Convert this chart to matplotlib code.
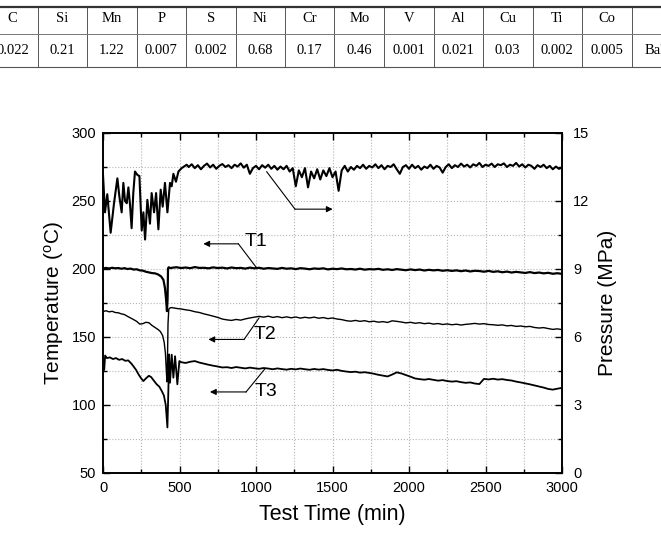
import numpy as np
import matplotlib
matplotlib.use('Agg')
import matplotlib.pyplot as plt
from matplotlib.ticker import MultipleLocator

plt.rcParams['font.family'] = 'Liberation Sans'
plt.rcParams['mathtext.default'] = 'regular'

# table above the chart (cut off at the left / right edge)
elements = ['C', 'Si', 'Mn', 'P', 'S', 'Ni', 'Cr', 'Mo', 'V', 'Al', 'Cu', 'Ti', 'Co', '']
contents = ['0.022', '0.21', '1.22', '0.007', '0.002', '0.68', '0.17', '0.46', '0.001',
            '0.021', '0.03', '0.002', '0.005', 'Bal.']

# pressure (MPa), early unstable part
p_time_a = [0, 13, 28, 50, 72, 94, 107, 122, 133, 144, 155, 166, 177, 187, 198, 209, 225, 238,
            253, 264, 275, 290, 307, 318, 334, 347, 362, 377, 390, 405, 421, 438, 449, 460,
            477, 493, 514, 547]
p_val_a = [13.15, 11.5, 12.3, 10.6, 11.9, 13.0, 12.2, 11.5, 12.8, 12.0, 11.9, 12.6, 11.8, 10.8,
           12.35, 13.3, 13.15, 13.1, 10.7, 11.5, 10.3, 12.05, 11.0, 12.35, 11.5, 12.35, 10.75,
           12.5, 11.75, 12.8, 11.5, 12.8, 12.65, 13.2, 12.85, 13.3, 13.45, 13.6]
# pressure (MPa), every 20 min from 560 to 3000
p_val_b = [13.5, 13.62, 13.45, 13.58, 13.4, 13.55, 13.65, 13.48, 13.6, 13.42,
           13.55, 13.63, 13.5, 13.58, 13.45, 13.6, 13.52, 13.66, 13.47, 13.6,
           13.2, 13.45, 13.55, 13.4, 13.58, 13.47, 13.6, 13.42, 13.55, 13.38,
           13.52, 13.4, 13.55, 13.3, 13.45, 12.65, 13.35, 13.05, 13.45, 12.6,
           13.3, 13.0, 13.4, 12.95, 13.35, 13.1, 13.45, 13.05, 13.3, 12.45,
           13.35, 13.55, 13.3, 13.5, 13.38, 13.55, 13.45, 13.6, 13.42, 13.55,
           13.48, 13.62, 13.45, 13.58, 13.4, 13.55, 13.5, 13.62, 13.4, 13.2,
           13.5, 13.58, 13.42, 13.6, 13.45, 13.55, 13.38, 13.52, 13.45, 13.6,
           13.42, 13.55, 13.48, 13.25, 13.5, 13.62, 13.45, 13.58, 13.5, 13.65,
           13.52, 13.6, 13.48, 13.62, 13.55, 13.68, 13.5, 13.6, 13.55, 13.65,
           13.5, 13.62, 13.58, 13.66, 13.5, 13.6, 13.55, 13.68, 13.52, 13.62,
           13.48, 13.6, 13.55, 13.42, 13.58, 13.5, 13.6, 13.45, 13.55, 13.4,
           13.52, 13.42, 13.48]

# temperatures (C) before / around the disturbance
t1_time_a = [0, 20, 40, 60, 80, 100, 120, 140, 160, 180, 200, 220, 240, 260, 280, 300, 320,
             340, 360, 380, 395, 405, 412, 418, 422, 425, 430, 440]
t1_val_a = [200.3, 200.8, 200.4, 200.9, 200.5, 200.7, 200.2, 200.6, 200.0, 200.3, 199.6, 199.8,
            199.0, 198.8, 198.0, 197.5, 197.0, 196.8, 196.0, 194.5, 192.0, 186.0, 178.0, 169.0,
            178.0, 200.5, 201.3, 200.6]
t2_time_a = [0, 20, 40, 60, 80, 100, 120, 140, 160, 180, 200, 220, 240, 260, 280, 300, 320,
             340, 360, 375, 390, 400, 408, 414, 418, 421, 425, 430, 440]
t2_val_a = [168.7, 169.3, 168.5, 168.9, 168.0, 167.8, 167.0, 166.5, 165.2, 164.0, 162.8, 161.5,
            159.5, 159.8, 160.8, 160.5, 158.5, 157.0, 155.5, 154.0, 151.0, 146.0, 138.0, 125.0,
            117.0, 130.0, 160.0, 170.5, 171.5]
t3_time_a = [0, 8, 14, 25, 45, 65, 85, 105, 125, 145, 165, 185, 198, 215, 235, 250, 264, 280,
             300, 315, 335, 351, 368, 384, 398, 410, 421, 427, 432, 438, 449, 460, 471, 486, 499]
t3_val_a = [125.0, 126.0, 136.4, 134.5, 135.0, 133.8, 134.5, 133.2, 133.8, 132.5, 132.8, 130.5,
            128.6, 126.0, 122.0, 119.5, 117.6, 119.5, 121.5, 120.5, 117.5, 115.2, 113.5, 110.3,
            107.0, 100.0, 83.5, 110.0, 137.2, 116.4, 137.0, 120.1, 135.9, 115.2, 132.3]

# temperatures every 30 min afterwards
t1_val_b = [200.9, 201.3, 200.7, 201.1, 200.6, 201.4, 200.8, 200.9, 200.5, 201.2,
            200.7, 201.0, 200.4, 201.1, 200.6, 200.8, 200.3, 201.0, 200.5, 200.9,
            200.2, 200.7, 200.4, 200.1, 200.8, 200.2, 200.5, 199.9, 200.6, 200.3,
            199.8, 200.4, 200.1, 200.5, 199.7, 200.2, 199.9, 200.4, 199.8, 200.0,
            199.6, 200.2, 199.5, 199.9, 199.7, 200.1, 199.4, 199.8, 199.3, 199.9,
            199.5, 199.1, 199.7, 199.2, 199.6, 198.9, 199.4, 199.0, 199.3, 198.7,
            199.1, 198.6, 199.0, 198.4, 198.9, 198.2, 198.7, 198.5, 198.0, 198.6,
            197.9, 198.3, 197.6, 198.1, 197.4, 197.9, 197.5, 197.1, 197.7, 197.0,
            197.4, 196.8, 197.2, 196.5, 196.9, 196.4]
t2_val_b = [171.6, 171.0, 170.6, 170.0, 169.5, 168.6, 168.0, 167.0, 166.2, 165.3,
            164.4, 163.2, 162.6, 162.2, 162.9, 162.4, 163.3, 164.0, 164.6, 165.2,
            164.6, 165.3, 164.4, 165.0, 164.2, 164.8, 164.1, 164.7, 163.9, 164.5,
            164.0, 164.6, 163.8, 164.3, 163.5, 164.0, 163.2, 162.8, 162.0, 161.6,
            162.2, 161.5, 162.0, 161.2, 161.6, 160.9, 161.3, 160.7, 161.9, 161.5,
            161.0, 160.4, 160.8, 160.1, 160.5, 159.8, 160.2, 159.5, 159.9, 159.2,
            159.6, 159.0, 159.4, 158.8, 159.3, 159.6, 160.0, 159.5, 159.8, 159.2,
            159.0, 158.6, 158.9, 158.2, 158.5, 157.8, 158.1, 157.5, 157.8, 157.0,
            156.6, 156.9, 156.2, 155.6, 156.0, 155.4]
t3_val_b = [131.5, 130.9, 131.8, 132.3, 131.2, 130.4, 129.6, 128.9, 128.3, 127.6,
            127.8, 127.2, 127.9, 127.4, 126.9, 127.5, 127.0, 126.6, 127.2, 126.8,
            126.3, 126.9, 126.4, 126.0, 126.6, 126.2, 126.8, 126.3, 125.9, 126.5,
            126.0, 126.4, 125.8, 125.4, 125.9, 125.1, 124.6, 124.2, 124.5, 123.8,
            124.1, 123.6, 123.0, 122.2, 121.6, 121.0, 122.4, 124.0, 123.2, 122.0,
            120.8, 119.5, 119.0, 118.6, 119.1, 118.5, 117.9, 118.3, 117.6, 117.2,
            117.5, 116.8, 116.3, 116.6, 115.8, 115.4, 119.2, 118.8, 119.3, 118.7,
            119.0, 118.4, 118.0, 117.2, 116.6, 115.9, 115.2, 114.4, 113.6, 112.8,
            111.8, 111.3, 112.0, 112.6]

p_time = p_time_a + list(range(560, 3001, 20))
p_val = p_val_a + p_val_b
t1_time = t1_time_a + list(range(450, 3001, 30))
t1_val = t1_val_a + t1_val_b
t2_time = t2_time_a + list(range(450, 3001, 30))
t2_val = t2_val_a + t2_val_b
t3_time = t3_time_a + list(range(510, 3001, 30))
t3_val = t3_val_a + t3_val_b

W, H = 661, 540
fig = plt.figure(figsize=(W / 100, H / 100), dpi=100)

# ---- table strip ----
col_w = 49.5
x0 = 12.75
for i, (el, val) in enumerate(zip(elements, contents)):
    cx = (x0 + i * col_w) / W
    fig.text(cx, 1 - 19 / H, el, ha='center', va='center', fontsize=10.5, family='Liberation Serif')
    fig.text(cx, 1 - 51 / H, val, ha='center', va='center', fontsize=10.5, family='Liberation Serif')
for i in range(len(elements) - 1):
    bx = (x0 + (i + 0.5) * col_w) / W
    fig.lines.append(plt.Line2D([bx, bx], [1 - 7 / H, 1 - 67 / H], transform=fig.transFigure,
                                color='#555555', lw=0.7))
fig.lines.append(plt.Line2D([0, 1], [1 - 7 / H, 1 - 7 / H], transform=fig.transFigure,
                            color='#333333', lw=1.6))
fig.lines.append(plt.Line2D([0, 1], [1 - 34 / H, 1 - 34 / H], transform=fig.transFigure,
                            color='#777777', lw=0.7))
fig.lines.append(plt.Line2D([0, 1], [1 - 67 / H, 1 - 67 / H], transform=fig.transFigure,
                            color='#555555', lw=0.8))

# ---- chart ----
ax = fig.add_axes([103 / W, 1 - 473 / H, (562 - 103) / W, (473 - 133) / H])
ax2 = ax.twinx()

ax.plot(t1_time, t1_val, color='black', lw=1.6)
ax.plot(t2_time, t2_val, color='black', lw=1.0)
ax.plot(t3_time, t3_val, color='black', lw=1.3)
ax2.plot(p_time, p_val, color='black', lw=1.5)

ax.set_xlim(0, 3000)
ax.set_ylim(50, 300)
ax2.set_ylim(0, 15)

ax.xaxis.set_major_locator(MultipleLocator(500))
ax.xaxis.set_minor_locator(MultipleLocator(250))
ax.yaxis.set_major_locator(MultipleLocator(50))
ax.yaxis.set_minor_locator(MultipleLocator(25))
ax2.yaxis.set_major_locator(MultipleLocator(3))
ax2.yaxis.set_minor_locator(MultipleLocator(1.5))

ax.grid(which='both', linestyle=':', color='#b5b5b5', lw=0.8)
ax.set_axisbelow(True)

for a in (ax, ax2):
    a.tick_params(which='both', direction='in', width=1.0, labelsize=10.5)
    a.tick_params(which='major', length=5)
    a.tick_params(which='minor', length=3)
    for s in a.spines.values():
        s.set_linewidth(1.2)
ax.tick_params(axis='x', which='both', top=True, pad=6)
ax.tick_params(axis='y', pad=5)
ax2.tick_params(axis='y', pad=8)

ax.set_xlabel('Test Time (min)', fontsize=15.5, labelpad=6)
ax.set_ylabel('Temperature ($^{o}$C)', fontsize=15, labelpad=4)
ax2.set_ylabel('Pressure (MPa)', fontsize=15, labelpad=6)

# callouts
arrow = dict(arrowstyle='-|>', color='black', lw=0.8, mutation_scale=9, shrinkA=0, shrinkB=0)
callouts = [
    ((1070, 271.5), (1255, 244), (1501, 244), None, None),
    ((1005, 200.7), (885, 218.5), (656, 218.5), 'T1', (1000, 220)),
    ((1020, 164), (922, 148.2), (689, 148.2), 'T2', (1062, 151.5)),
    ((1059, 126.7), (935, 109.6), (699, 109.6), 'T3', (1065, 110)),
]
for start, corner, tip, label, pos in callouts:
    ax.plot([start[0], corner[0]], [start[1], corner[1]], color='black', lw=0.8)
    ax.annotate('', xy=tip, xytext=corner, arrowprops=arrow)
    if label:
        ax.text(pos[0], pos[1], label, fontsize=14, ha='center', va='center')

fig.savefig('out.png', dpi=100)
